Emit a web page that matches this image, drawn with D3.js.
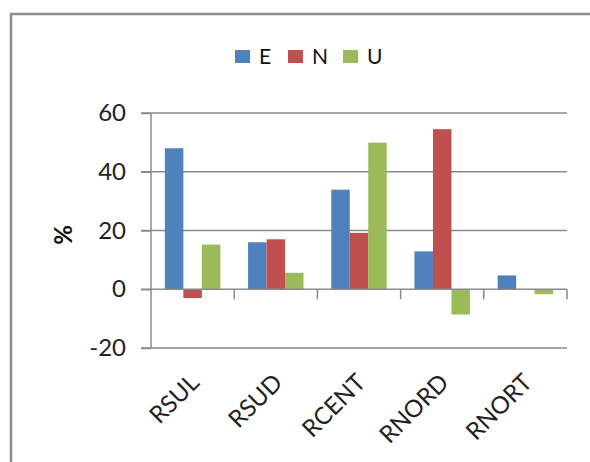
<!DOCTYPE html>
<html>
<head>
<meta charset="utf-8">
<script src="https://cdn.jsdelivr.net/npm/d3@7"></script>
<style>
html,body{margin:0;padding:0;background:#fff;}
svg{display:block;}
</style>
</head>
<body>
<svg id="chart" width="590" height="462"></svg>
<script>
const categories = ["RSUL", "RSUD", "RCENT", "RNORD", "RNORT"];
const seriesNames = ["E", "N", "U"];
const valuesE = [48.0, 16.0, 33.9, 12.9, 4.7];
const valuesN = [-3.0, 17.0, 19.2, 54.5, 0.0];
const valuesU = [15.2, 5.6, 49.9, -8.6, -1.7];
const yTicks = [-20, 0, 20, 40, 60];
const colors = ["#4F81BD", "#C0504D", "#9BBB59"];

const seriesValues = [valuesE, valuesN, valuesU];
const data = categories.map((c, i) => ({
  cat: c,
  vals: seriesNames.map((s, j) => ({ s, v: seriesValues[j][i] }))
}));

const svg = d3.select("#chart");
const font = "Lato, 'Open Sans', sans-serif";
const gridColor = "#8a8a8a";

// frame
svg.append("path")
  .attr("d", "M11,470 L11,14 L600,14")
  .attr("fill", "none")
  .attr("stroke", "#8c8c8c")
  .attr("stroke-width", 2.5);

const x = d3.scaleBand().domain(categories).range([151, 567]).padding(0);
const y = d3.scaleLinear().domain([-20, 60]).range([348, 113]);
const groupW = x.bandwidth() * 3 / 4.5;
const xs = d3.scaleBand().domain(seriesNames).range([0, groupW]);

// gridlines
svg.append("g").selectAll("line")
  .data(yTicks.filter(t => t !== 0))
  .join("line")
  .attr("x1", 141).attr("x2", 567)
  .attr("y1", d => y(d)).attr("y2", d => y(d))
  .attr("stroke", gridColor).attr("stroke-width", 1.5);

// y axis
const yAxis = d3.axisLeft(y).tickValues(yTicks).tickSize(10).tickPadding(15).tickFormat(d => String(d));
const gy = svg.append("g").attr("transform", "translate(151,0)").call(yAxis);
gy.select(".domain").attr("stroke", gridColor).attr("stroke-width", 1.5).attr("d", `M0,${y(60)}V${y(-20)}`);
gy.selectAll(".tick line").attr("stroke", gridColor).attr("stroke-width", 1.5);
gy.selectAll(".tick text").attr("font-family", font).attr("font-size", 24).attr("fill", "#222");

// bars
const groups = svg.append("g").selectAll("g")
  .data(data).join("g")
  .attr("transform", d => `translate(${x(d.cat) + (x.bandwidth() - groupW) / 2},0)`);
groups.selectAll("rect")
  .data(d => d.vals).join("rect")
  .attr("x", d => xs(d.s))
  .attr("width", xs.bandwidth())
  .attr("y", d => y(Math.max(0, d.v)))
  .attr("height", d => Math.abs(y(d.v) - y(0)))
  .attr("fill", (d, i) => colors[i]);

// category axis at 0
const xAxis = d3.axisBottom(x).tickSize(0).tickFormat("");
const gx = svg.append("g").attr("transform", `translate(0,${y(0)})`).call(xAxis);
gx.select(".domain").attr("stroke", gridColor).attr("stroke-width", 1.5).attr("d", `M141,0H567`);
const bounds = categories.map(c => x(c) + x.bandwidth());
gx.selectAll(".bnd").data(bounds).join("line")
  .attr("x1", d => d).attr("x2", d => d).attr("y1", 0).attr("y2", 10)
  .attr("stroke", gridColor).attr("stroke-width", 1.5);

// category labels
svg.append("g").selectAll("text")
  .data(categories).join("text")
  .attr("transform", d => `translate(${x(d) + x.bandwidth() / 2 + 8},384) rotate(-45)`)
  .attr("text-anchor", "end")
  .attr("font-family", font).attr("font-size", 24).attr("fill", "#222")
  .text(d => d);

// y title
svg.append("text")
  .attr("transform", "translate(72,235) rotate(-90)")
  .attr("text-anchor", "middle")
  .attr("font-family", font).attr("font-size", 24).attr("font-weight", "bold").attr("fill", "#111")
  .text("%");

// legend
const legX = [235, 288, 343];
const leg = svg.append("g").selectAll("g").data(seriesNames).join("g")
  .attr("transform", (d, i) => `translate(${legX[i]},50)`);
leg.append("rect").attr("width", 15).attr("height", 13).attr("fill", (d, i) => colors[i]);
leg.append("text").attr("x", 24).attr("y", 14)
  .attr("font-family", font).attr("font-size", 21).attr("fill", "#111")
  .text(d => d);
</script>
</body>
</html>
